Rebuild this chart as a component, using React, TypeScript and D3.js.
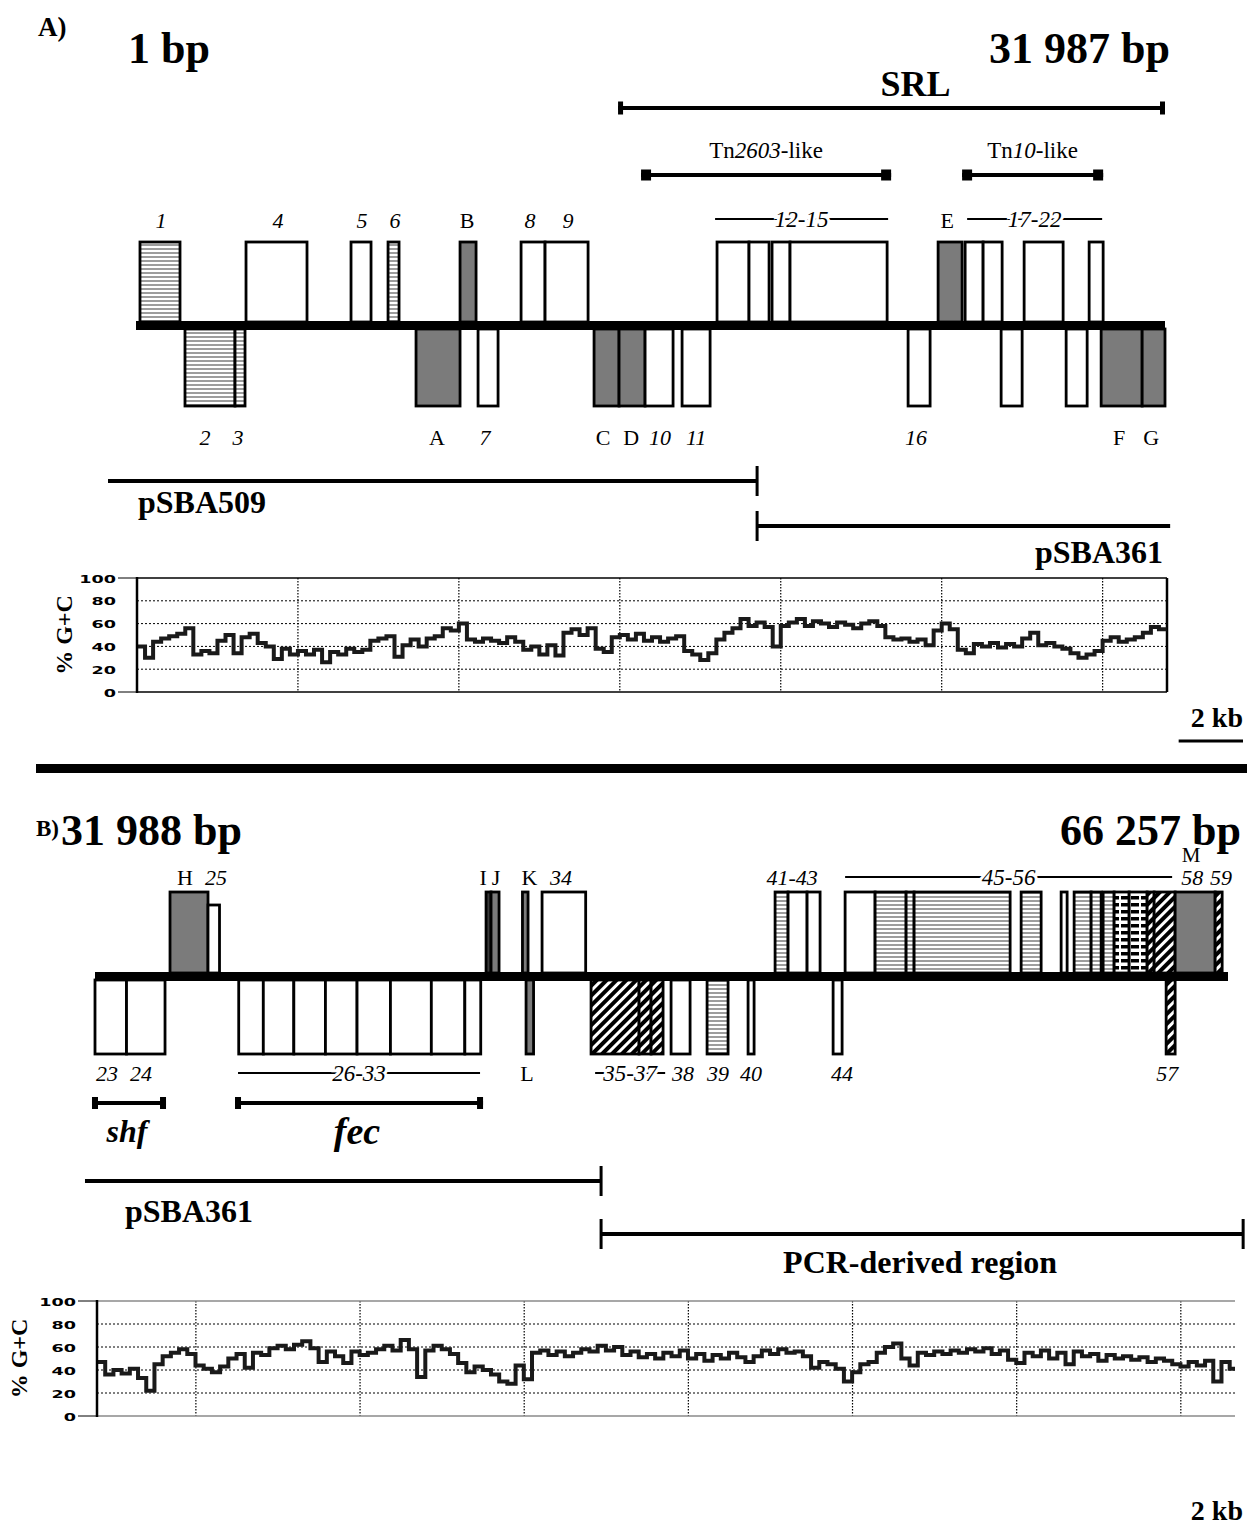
import React, { useEffect } from 'react';
import * as d3 from 'd3';

// ---------- data (positions in bp) ----------
const seqA = [1, 31987];
const seqB = [31988, 66257];

// genes above / below the backbone: [label, start, end, class]
const genesAUp = [
  ['1', 124, 1368, 'striped'], ['4', 3420, 5316, 'open'], ['5', 6684, 7306, 'open'],
  ['6', 7835, 8177, 'striped'], ['B', 10073, 10571, 'shaded'], ['8', 11970, 12716, 'open'],
  ['9', 12716, 14053, 'open'], ['12', 18062, 19056, 'open'], ['13', 19056, 19679, 'open'],
  ['14', 19772, 20331, 'open'], ['15', 20331, 23349, 'open'], ['E', 24934, 25680, 'shaded'],
  ['17', 25774, 26333, 'open'], ['18', 26333, 26924, 'open'], ['20', 27608, 28820, 'open'],
  ['22', 29629, 30064, 'open'],
];
const genesADown = [
  ['2', 1523, 3078, 'striped'], ['3', 3078, 3389, 'striped'], ['A', 8705, 10073, 'shaded'],
  ['7', 10633, 11255, 'open'], ['C', 14239, 15016, 'shaded'], ['D', 15016, 15825, 'shaded'],
  ['10', 15825, 16695, 'open'], ['11', 16975, 17846, 'open'], ['16', 24001, 24685, 'open'],
  ['19', 26893, 27546, 'open'], ['21', 28914, 29567, 'open'], ['F', 30002, 31277, 'shaded'],
  ['G', 31277, 31987, 'shaded'],
];
const labelsAUp = [
  ['1', 777], ['4', 4415], ['5', 7026], ['6', 8052], ['B', 10291], ['8', 12249], ['9', 13431],
  ['12-15', 20644], ['E', 25214], ['17-22', 27888],
];
const labelsADown = [
  ['2', 2145], ['3', 3171], ['A', 9358], ['7', 10851], ['C', 14517], ['D', 15390], ['10', 16291],
  ['11', 17410], ['16', 24250], ['F', 30561], ['G', 31556],
];
const groupsAUp = [['12-15', 18001, 23380], ['17-22', 25836, 30033]];
const srlA = [14985, 31987];
const transposonsA = [['Tn', '2603', 15700, 23473], ['Tn', '10', 25680, 30064]];
const pSBA509 = [-870, 19307];
const pSBA361A = [19307, 32147];

const genesBUp = [
  ['H', 34257, 35406, 'shaded'], ['25', 35406, 35754, 'open'], ['I', 43816, 43967, 'dark'],
  ['J', 43967, 44209, 'shaded'], ['K', 44917, 45086, 'shaded'], ['34', 45510, 46829, 'open'],
  ['41', 52558, 52951, 'striped'], ['42', 52951, 53526, 'open'], ['43', 53526, 53919, 'open'],
  ['45', 54676, 55583, 'open'], ['46', 55583, 56521, 'striped'], ['47', 56521, 56763, 'striped'],
  ['48', 56763, 59667, 'striped'], ['49', 60000, 60605, 'striped'], ['50', 61210, 61391, 'open'],
  ['51', 61603, 62117, 'striped'], ['52', 62117, 62420, 'striped'], ['53', 62480, 62813, 'striped'],
  ['54', 62813, 63267, 'barred'], ['55', 63267, 63811, 'barred'], ['56', 63811, 64023, 'hatched'],
  ['58', 64023, 64658, 'hatched'], ['M', 64658, 65868, 'shaded'], ['59', 65868, 66080, 'hatched'],
];
const shortGenesB = ['25'];
const genesBDown = [
  ['23', 31988, 32941, 'open'], ['24', 32941, 34106, 'open'], ['26', 36335, 37079, 'open'],
  ['27', 37079, 38002, 'open'], ['28', 38002, 38958, 'open'], ['29', 38958, 39914, 'open'],
  ['30', 39914, 40924, 'open'], ['31', 40924, 42161, 'open'], ['32', 42161, 43174, 'open'],
  ['33', 43174, 43655, 'open'], ['L', 45026, 45253, 'shaded'], ['35', 46992, 48444, 'hatched'],
  ['36', 48444, 48807, 'hatched'], ['37', 48807, 49170, 'hatched'], ['38', 49412, 49987, 'open'],
  ['39', 50501, 51136, 'striped'], ['40', 51741, 51923, 'open'], ['44', 54313, 54585, 'open'],
  ['57', 64386, 64658, 'hatched'],
];
const labelsBUp = [
  ['H', 34711], ['25', 35648], ['I', 43725], ['J', 44118], ['K', 45126], ['34', 46085],
  ['41-43', 53072], ['45-56', 59879], ['58', 65172], ['59', 66049],
];
const labelsBTop = [['M', 65142]];
const labelsBDown = [
  ['23', 32351], ['24', 33380], ['26-33', 39914], ['L', 45056], ['35-37', 48051], ['38', 49775],
  ['39', 50834], ['40', 51832], ['44', 54585], ['57', 64418],
];
const groupsBUp = [['45-56', 54676, 64567]];
const groupsBDown = [['26-33', 36314, 43634], ['35-37', 47115, 49233]];
const lociB = [['shf', 31897, 34136], ['fec', 36223, 43725]];
const pSBA361B = [31685, 47295];
const pcrRegion = [47295, 66715];

// % G+C in 250 bp windows
const gcWindow = 250;
const gcA = [
  40, 30, 44, 47, 49, 51, 56, 33, 36, 34, 45, 50, 34, 48, 51, 43, 40, 29, 38, 33,
  36, 33, 37, 26, 35, 33, 38, 35, 37, 45, 47, 49, 31, 41, 46, 40, 47, 49, 56, 54,
  60, 46, 44, 47, 45, 43, 48, 44, 37, 40, 33, 41, 32, 52, 55, 50, 56, 38, 35, 48,
  50, 46, 51, 45, 48, 44, 47, 49, 36, 33, 28, 34, 46, 52, 56, 64, 58, 61, 57, 40,
  58, 61, 64, 58, 62, 60, 57, 61, 59, 56, 60, 62, 58, 48, 46, 47, 44, 46, 41, 54,
  60, 55, 37, 34, 42, 40, 43, 39, 42, 40, 47, 52, 41, 43, 40, 38, 34, 30, 33, 36,
  45, 48, 44, 46, 48, 52, 57, 55,
];
const gcB = [
  47, 36, 40, 37, 41, 33, 22, 45, 52, 55, 58, 54, 44, 41, 38, 43, 50, 54, 42, 55,
  53, 59, 61, 58, 62, 65, 59, 47, 56, 52, 46, 56, 53, 55, 58, 61, 57, 66, 58, 34,
  57, 61, 58, 54, 46, 38, 43, 40, 36, 30, 28, 44, 32, 55, 57, 53, 56, 52, 55, 58,
  56, 61, 57, 60, 53, 56, 51, 54, 50, 55, 52, 57, 50, 54, 48, 53, 50, 55, 51, 47,
  52, 57, 54, 58, 55, 56, 52, 42, 47, 45, 41, 30, 38, 45, 47, 55, 60, 63, 50, 44,
  55, 53, 56, 54, 57, 55, 58, 56, 59, 54, 57, 49, 46, 55, 52, 57, 50, 55, 45, 56,
  52, 54, 48, 53, 50, 52, 49, 51, 47, 50, 48, 45, 43, 47, 44, 48, 30, 47, 41,
];
const gcTicks = [0, 20, 40, 60, 80, 100];
const gcGridA = [5000, 10000, 15000, 20000, 25000, 30000];
const gcGridB = [35000, 40000, 45000, 50000, 55000, 60000, 65000];

// ---------- drawing ----------
const serif = '"Liberation Serif", "Times New Roman", serif';
const fills = {
  open: '#fff', shaded: '#7b7b7b', dark: '#3a3a3a',
  striped: 'url(#striped)', hatched: 'url(#hatched)', barred: 'url(#barred)',
};

const isLetter = (t) => /^[A-Z]$/.test(t);

function Genes({ genes, x, y0, y1, short = [], shortY }) {
  return genes.map(([id, s, e, k]) => {
    const top = short.includes(id) ? shortY : y0;
    return (
      <rect key={id} x={x(s)} y={top} width={x(e) - x(s)} height={y1 - top}
        fill={fills[k]} stroke="#000" strokeWidth={2.8} />
    );
  });
}

function Labels({ items, x, y, size = 22 }) {
  return items.map(([t, bp]) => (
    <text key={t + bp} x={x(bp)} y={y} textAnchor="middle" fontSize={size} fontFamily={serif}
      fontStyle={isLetter(t) ? 'normal' : 'italic'}>{t}</text>
  ));
}

function Groups({ items, x, y }) {
  return items.map(([t, s, e]) => (
    <line key={t} x1={x(s)} x2={x(e)} y1={y} y2={y} stroke="#000" strokeWidth={1.8} />
  ));
}

function Haloed({ items, x, y }) {
  // labels placed over group lines, white halo breaks the line
  return items.map(([t, s, e]) => (
    <text key={t} x={x((s + e) / 2)} y={y + 8} textAnchor="middle" fontSize={23} fontFamily={serif}
      fontStyle="italic" stroke="#fff" strokeWidth={6} style={{ paintOrder: 'stroke' }}>{t}</text>
  ));
}

function CapBar({ s, e, x, y, capW, capH, lw = 4 }) {
  return (
    <g>
      <line x1={x(s)} x2={x(e)} y1={y} y2={y} stroke="#000" strokeWidth={lw} />
      <rect x={x(s)} y={y - capH / 2} width={capW} height={capH} fill="#000" />
      <rect x={x(e) - capW} y={y - capH / 2} width={capW} height={capH} fill="#000" />
    </g>
  );
}

function Clone({ s, e, x, y, tickStart, tickEnd }) {
  return (
    <g>
      <line x1={x(s)} x2={x(e)} y1={y} y2={y} stroke="#000" strokeWidth={4} />
      {tickStart && <line x1={x(s)} x2={x(s)} y1={y - 15} y2={y + 15} stroke="#000" strokeWidth={3} />}
      {tickEnd && <line x1={x(e)} x2={x(e)} y1={y - 15} y2={y + 15} stroke="#000" strokeWidth={3} />}
    </g>
  );
}

function GCPlot({ values, start, end, domain, range, top, bottom, grid, labelRight, titleX, frameColor, rightBorder }) {
  const x = d3.scaleLinear().domain(domain).range(range);
  const y = d3.scaleLinear().domain([0, 100]).range([bottom, top]);
  const pts = values.map((v, i) => [start + i * gcWindow, v]);
  pts.push([Math.min(end, start + values.length * gcWindow), values[values.length - 1]]);
  const path = d3.line().x(d => x(Math.min(d[0], domain[1]))).y(d => y(d[1])).curve(d3.curveStepAfter)(pts);
  const [x0, x1] = range;
  return (
    <g>
      {gcTicks.filter(t => t > 0 && t < 100).map(t => (
        <line key={t} x1={x0} x2={x1} y1={y(t)} y2={y(t)} stroke="#000" strokeWidth={1} strokeDasharray="2,2" />
      ))}
      {grid.map(g => (
        <line key={g} x1={x(g)} x2={x(g)} y1={top} y2={bottom} stroke="#000" strokeWidth={1.2} strokeDasharray="1.5,1.5" />
      ))}
      <line x1={x0} x2={x1} y1={top} y2={top} stroke={frameColor} strokeWidth={1.5} />
      <line x1={x0} x2={x1} y1={bottom} y2={bottom} stroke={frameColor} strokeWidth={1.5} />
      {rightBorder && <line x1={x1} x2={x1} y1={top} y2={bottom} stroke="#000" strokeWidth={2.5} />}
      <path d={path} fill="none" stroke="#1a1a1a" strokeWidth={4} strokeLinejoin="miter" />
      <line x1={x0} x2={x0} y1={top - 1} y2={bottom + 1} stroke="#000" strokeWidth={2.5} />
      {gcTicks.map(t => (
        <text key={t} transform={`translate(${labelRight},${y(t) + 4.5}) scale(1.6,0.95)`} textAnchor="end"
          fontSize={11} fontWeight="bold" fontFamily='"DejaVu Sans", sans-serif'>{t}</text>
      ))}
      <line x1={labelRight + 2} x2={x0} y1={top} y2={top} stroke="#000" strokeWidth={1} />
      <line x1={labelRight + 2} x2={x0} y1={bottom} y2={bottom} stroke="#000" strokeWidth={1} />
      <text transform={`translate(${titleX},${(top + bottom) / 2}) rotate(-90)`} textAnchor="middle"
        fontSize={24} fontWeight="bold" fontFamily={serif}>% G+C</text>
    </g>
  );
}

export default function App() {
  useEffect(() => { document.body.style.margin = '0'; }, []);

  const xA = d3.scaleLinear().domain([0, seqA[1]]).range([136, 1165]);
  const xB = d3.scaleLinear().domain(seqB).range([95, 1228]);
  const kb2 = xA(2000) - xA(0);

  return (
    <svg width={1247} height={1526} style={{ display: 'block', background: '#fff' }} fontFamily={serif}>
      <defs>
        <pattern id="striped" width="6" height="4" patternUnits="userSpaceOnUse">
          <rect width="6" height="4" fill="#fff" />
          <rect width="6" height="2" fill="#9d9d9d" />
        </pattern>
        <pattern id="hatched" width="7" height="7" patternUnits="userSpaceOnUse" patternTransform="rotate(45)">
          <rect width="7" height="7" fill="#fff" />
          <rect width="4" height="7" fill="#000" />
        </pattern>
        <pattern id="barred" width="10" height="7" patternUnits="userSpaceOnUse">
          <rect width="10" height="7" fill="#fff" />
          <rect x="1" width="8" height="3.5" fill="#000" />
        </pattern>
      </defs>

      {/* ---------------- panel A ---------------- */}
      <text x={38} y={36} fontSize={27} fontWeight="bold">A)</text>
      <text x={128} y={63} fontSize={44} fontWeight="bold">{seqA[0]} bp</text>
      <text x={1170} y={63} fontSize={44} fontWeight="bold" textAnchor="end">31 987 bp</text>

      <text x={xA((srlA[0] + srlA[1]) / 2) + 24} y={96} fontSize={36} fontWeight="bold" textAnchor="middle">SRL</text>
      <CapBar s={srlA[0]} e={srlA[1]} x={xA} y={108} capW={5} capH={13} />
      {transposonsA.map(([a, b, s, e]) => (
        <g key={b}>
          <text x={xA((s + e) / 2)} y={158} fontSize={23} textAnchor="middle">
            {a}<tspan fontStyle="italic">{b}</tspan>-like
          </text>
          <CapBar s={s} e={e} x={xA} y={175} capW={10} capH={11} />
        </g>
      ))}

      <Groups items={groupsAUp} x={xA} y={219} />
      <Haloed items={groupsAUp} x={xA} y={219} />
      <Labels items={labelsAUp.filter(l => !groupsAUp.some(g => g[0] === l[0]))} x={xA} y={228} />
      <Genes genes={genesAUp} x={xA} y0={242} y1={322} />
      <Genes genes={genesADown} x={xA} y0={329} y1={406} />
      <rect x={xA(0)} y={321} width={xA(seqA[1]) - xA(0)} height={9} fill="#000" />
      <Labels items={labelsADown} x={xA} y={445} />

      <Clone s={pSBA509[0]} e={pSBA509[1]} x={xA} y={481} tickEnd />
      <text x={138} y={513} fontSize={32} fontWeight="bold">pSBA509</text>
      <Clone s={pSBA361A[0]} e={pSBA361A[1]} x={xA} y={526} tickStart />
      <text x={1163} y={563} fontSize={32} fontWeight="bold" textAnchor="end">pSBA361</text>

      <GCPlot values={gcA} start={0} end={seqA[1]} domain={[0, 32000]} range={[137, 1167]} top={578} bottom={692}
        grid={gcGridA} labelRight={116} titleX={72} frameColor="#000" rightBorder />

      <text x={1243} y={727} fontSize={28} fontWeight="bold" textAnchor="end">2 kb</text>
      <line x1={1243 - kb2} x2={1243} y1={741} y2={741} stroke="#000" strokeWidth={3} />

      <rect x={36} y={764} width={1211} height={9} fill="#000" />

      {/* ---------------- panel B ---------------- */}
      <text x={36} y={836} fontSize={23} fontWeight="bold">B)</text>
      <text x={61} y={845} fontSize={44} fontWeight="bold">31 988 bp</text>
      <text x={1241} y={845} fontSize={44} fontWeight="bold" textAnchor="end">66 257 bp</text>

      <Labels items={labelsBTop} x={xB} y={862} size={21} />
      <Groups items={groupsBUp} x={xB} y={877} />
      <Haloed items={groupsBUp} x={xB} y={877} />
      <Labels items={labelsBUp.filter(l => !groupsBUp.some(g => g[0] === l[0]))} x={xB} y={885} />
      <Genes genes={genesBUp} x={xB} y0={892} y1={973} short={shortGenesB} shortY={905} />
      <Genes genes={genesBDown} x={xB} y0={980} y1={1054} />
      <rect x={xB(seqB[0])} y={972} width={xB(seqB[1]) - xB(seqB[0])} height={9} fill="#000" />
      <Groups items={groupsBDown} x={xB} y={1073} />
      <Haloed items={groupsBDown} x={xB} y={1073} />
      <Labels items={labelsBDown.filter(l => !groupsBDown.some(g => g[0] === l[0]))} x={xB} y={1081} />

      {lociB.map(([t, s, e]) => (
        <g key={t}>
          <CapBar s={s} e={e} x={xB} y={1103} capW={6} capH={12} />
          <text x={xB((s + e) / 2) - 2} y={t === 'fec' ? 1144 : 1142} fontSize={t === 'fec' ? 38 : 32}
            fontWeight="bold" fontStyle="italic" textAnchor="middle">{t}</text>
        </g>
      ))}

      <Clone s={pSBA361B[0]} e={pSBA361B[1]} x={xB} y={1181} tickEnd />
      <text x={125} y={1222} fontSize={32} fontWeight="bold">pSBA361</text>
      <Clone s={pcrRegion[0]} e={pcrRegion[1]} x={xB} y={1234} tickStart tickEnd />
      <text x={xB((pcrRegion[0] + pcrRegion[1]) / 2) - 2} y={1273} fontSize={32} fontWeight="bold" textAnchor="middle">PCR-derived region</text>

      <GCPlot values={gcB} start={seqB[0]} end={66650} domain={[seqB[0], 66650]} range={[97, 1235]} top={1301} bottom={1416}
        grid={gcGridB} labelRight={76} titleX={27} frameColor="#8a8a8a" rightBorder={false} />

      <text x={1243} y={1520} fontSize={28} fontWeight="bold" textAnchor="end">2 kb</text>
    </svg>
  );
}
